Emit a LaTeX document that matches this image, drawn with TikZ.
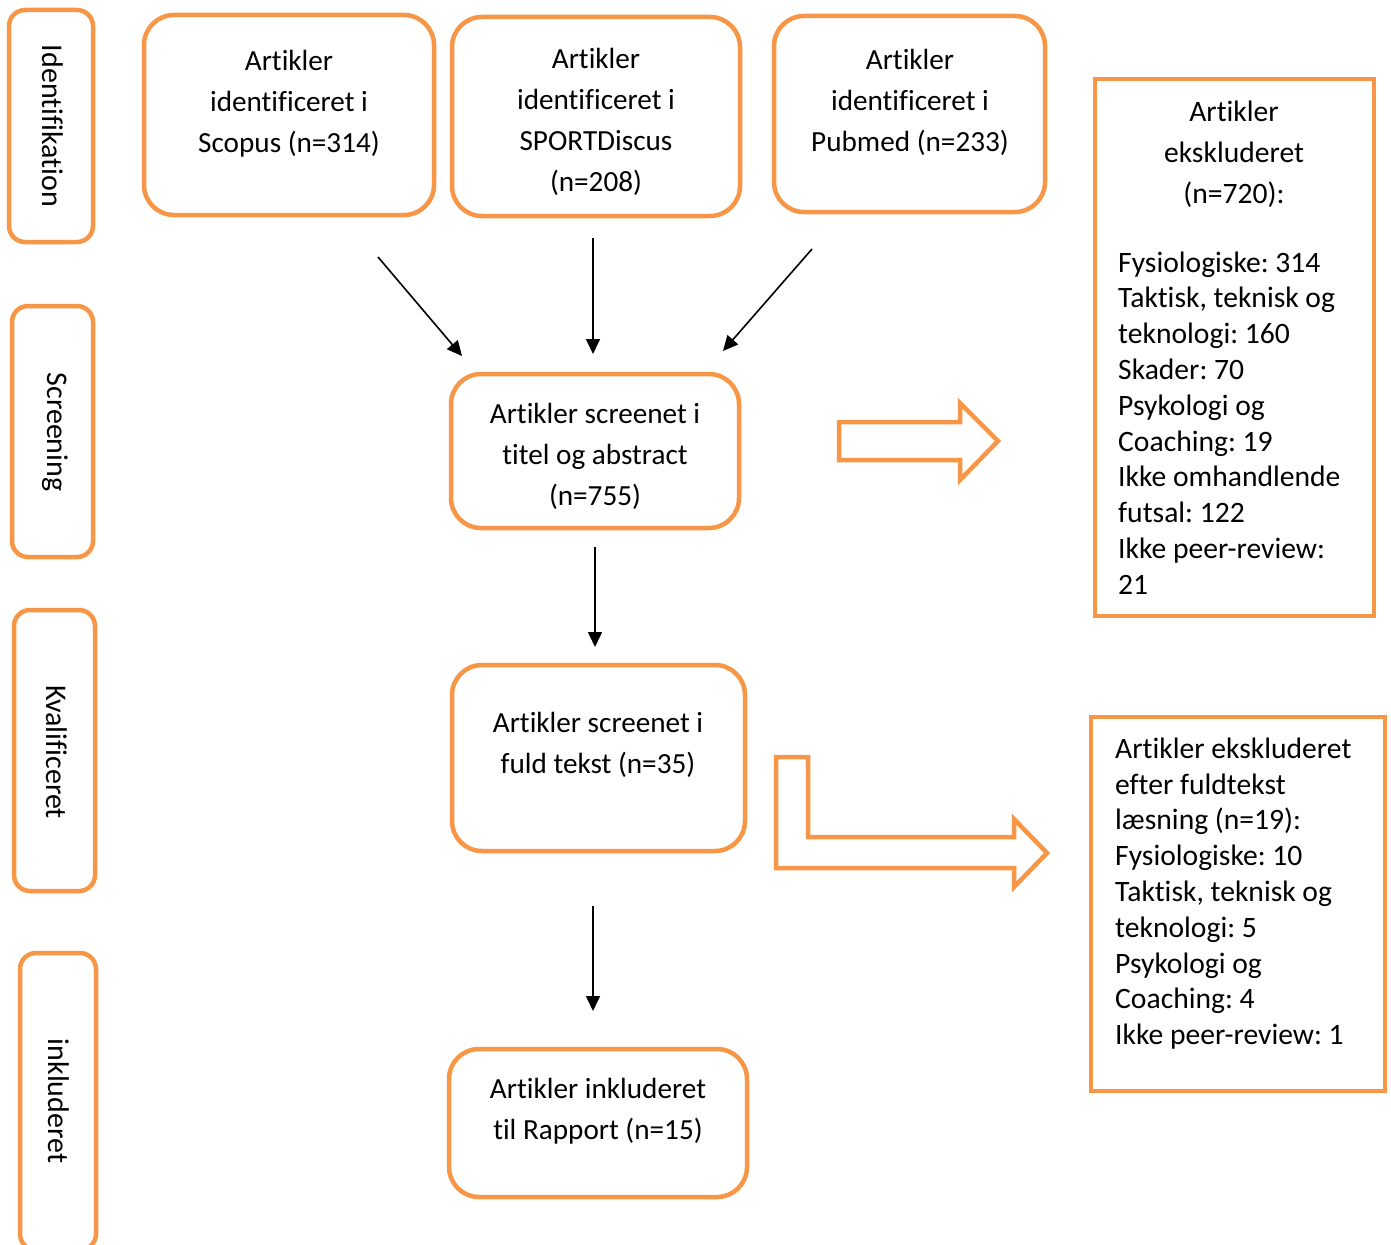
\documentclass[tikz,border=0pt]{standalone}
\usepackage{fontspec}
\setmainfont{Carlito}[Ligatures=NoCommon]
\usetikzlibrary{arrows.meta}
\definecolor{orng}{HTML}{F79646}
\frenchspacing
\begin{document}
\begin{tikzpicture}[x=1pt,y=-1pt,
  rbox/.style={draw=orng,line width=4.5pt,rounded corners=30pt,fill=white,inner sep=0pt},
  sbox/.style={draw=orng,line width=4.5pt,rounded corners=16pt,fill=white,inner sep=0pt},
  xbox/.style={draw=orng,line width=4.5pt,fill=white,inner sep=0pt},
  flow/.style={font=\fontsize{29.2}{41}\selectfont,align=center,inner sep=0pt},
  side/.style={font=\fontsize{30}{34}\selectfont,rotate=-90,inner sep=0pt},
  list/.style={font=\fontsize{29.6}{35.8}\selectfont,align=left,inner sep=0pt,anchor=west},
  conn/.style={line width=1.6pt,-{Triangle[length=15pt,width=14pt]}},
  barrow/.style={draw=orng,line width=4.5pt,fill=white}
]
\useasboundingbox (0,0) rectangle (1391,1244);
\begin{scope}
\clip (0,0) rectangle (1391,1244);
% side stage boxes
\node[sbox,minimum width=84pt,minimum height=232pt] (sid) at (51,126) {};
\node[side] (tid) at (53,126) {Identifikation};
\node[sbox,minimum width=81pt,minimum height=251pt] (ssc) at (52.5,431.5) {};
\node[side] (tsc) at (55,432) {Screening};
\node[sbox,minimum width=81pt,minimum height=281pt] (skv) at (54.5,750.5) {};
\node[side] (tkv) at (57,752) {Kvalificeret};
\node[sbox,minimum width=76pt,minimum height=297pt] (sin) at (58,1101.5) {};
\node[side] (tin) at (59,1101) {inkluderet};
\end{scope}

% identification boxes
\node[rbox,minimum width=290pt,minimum height=200pt] (scopus) at (289,115) {};
\node[flow] (tscopus) at (289,103.5) {Artikler\\identificeret i\\Scopus (n=314)};
\node[rbox,minimum width=288pt,minimum height=199pt] (sport) at (596,116.5) {};
\node[flow] (tsport) at (596,122) {Artikler\\identificeret i\\SPORTDiscus\\(n=208)};
\node[rbox,minimum width=271pt,minimum height=196pt] (pub) at (909.5,114) {};
\node[flow] (tpub) at (910,102) {Artikler\\identificeret i\\Pubmed (n=233)};

% screening
\node[rbox,minimum width=288pt,minimum height=154pt] (scr) at (595,451) {};
\node[flow] (tscr) at (595,456.5) {Artikler screenet i\\titel og abstract\\(n=755)};

% full text
\node[rbox,minimum width=293pt,minimum height=186pt] (full) at (598.5,758) {};
\node[flow] (tfull) at (598,745) {Artikler screenet i\\fuld tekst (n=35)};

% included
\node[rbox,minimum width=298pt,minimum height=148pt] (incl) at (598,1123) {};
\node[flow] (tincl) at (598,1111) {Artikler inkluderet\\til Rapport (n=15)};

% excluded boxes
\node[xbox,minimum width=279pt,minimum height=537pt] (ex1) at (1234.5,347.5) {};
\node[flow,font=\fontsize{29.6}{41}\selectfont] (tex1a) at (1234,154) {Artikler\\ekskluderet\\(n=720):};
\node[list] (tex1b) at (1118,423) {Fysiologiske: 314\\Taktisk, teknisk og\\teknologi: 160\\Skader: 70\\Psykologi og\\Coaching: 19\\Ikke omhandlende\\futsal: 122\\Ikke peer-review:\\21};
\node[xbox,minimum width=294pt,minimum height=374pt] (ex2) at (1238,904) {};
\node[list] (tex2) at (1115,893.5) {Artikler ekskluderet\\efter fuldtekst\\læsning (n=19):\\Fysiologiske: 10\\Taktisk, teknisk og\\teknologi: 5\\Psykologi og\\Coaching: 4\\Ikke peer-review: 1};

% connectors
\coordinate (a1s) at (378,257);
\coordinate (a1e) at (462,356);
\coordinate (a2s) at (593,238);
\coordinate (a2e) at (593,354);
\coordinate (a3s) at (812,249);
\coordinate (a3e) at (723,351);
\coordinate (a4s) at (595,547);
\coordinate (a4e) at (595,647);
\coordinate (a5s) at (593,906);
\coordinate (a5e) at (593,1011);
\draw[conn] (a1s) -- (a1e);
\draw[conn] (a2s) -- (a2e);
\draw[conn] (a3s) -- (a3e);
\draw[conn] (a4s) -- (a4e);
\draw[conn] (a5s) -- (a5e);

% block arrows
\draw[barrow] (839,422) -- (960,422) -- (960,403) -- (998,441) -- (960,480) -- (960,460) -- (839,460) -- cycle;
\draw[barrow] (776,757) -- (808,757) -- (808,837) -- (1014,837) -- (1014,819) -- (1047,853) -- (1014,887) -- (1014,868) -- (776,868) -- cycle;
\end{tikzpicture}
\end{document}
